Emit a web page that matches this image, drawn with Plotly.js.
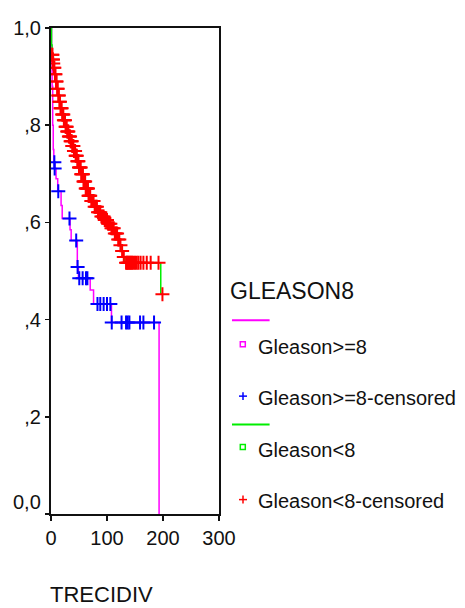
<!DOCTYPE html>
<html><head><meta charset="utf-8">
<script src="https://cdn.plot.ly/plotly-3.0.1.min.js"></script>
<style>html,body{margin:0;padding:0;background:#fff}#chart{width:465px;height:608px}</style>
</head><body><div id="chart"></div>
<script>
// Gleason>=8 : step survival curve (event time, survival after event)
const hiTimes = [0, 1, 2, 3, 4, 5, 6.5, 9, 12, 18, 20, 34, 36, 47, 49, 70, 76, 108, 193];
const hiSurv  = [1.0, 0.93, 0.88, 0.80, 0.75, 0.724, 0.711, 0.69, 0.664, 0.635, 0.608, 0.585, 0.563, 0.508, 0.485, 0.461, 0.432, 0.394, 0.0];
const hiCensor = [6, 6.5, 13, 33, 45, 47.5, 50.5, 56.5, 62.5, 65, 83, 88, 94, 100, 106, 108.5, 126, 134, 137, 140, 159, 165, 184];

// Gleason<8 : step survival curve
const loTimes = [0, 1, 2, 3, 4, 5, 7, 9, 11, 13, 15, 17, 20, 23, 26, 29, 32, 35, 38, 41, 44, 47, 50, 54, 58, 62, 67, 72, 77, 83, 89, 95, 101, 107, 113, 119, 123, 126, 129, 131, 196];
const loSurv  = [1.0, 0.965, 0.945, 0.935, 0.927, 0.918, 0.905, 0.89, 0.875, 0.861, 0.848, 0.835, 0.822, 0.81, 0.797, 0.787, 0.777, 0.767, 0.757, 0.747, 0.737, 0.726, 0.713, 0.699, 0.684, 0.67, 0.655, 0.644, 0.632, 0.621, 0.612, 0.605, 0.597, 0.588, 0.577, 0.565, 0.553, 0.541, 0.529, 0.517, 0.452];
const loEnd = 199;
const loCensor = [2, 2.5, 3, 3.5, 4, 5, 6, 7, 8, 9, 10, 11, 12, 13, 14, 15, 16, 17, 18, 19, 20, 21, 22, 23, 24, 25, 26, 27, 28, 29, 30, 31, 32, 33, 34, 35, 36, 37, 38, 39, 40, 41, 42, 43, 44, 45, 46, 47, 48, 49, 50, 51, 52, 53, 54, 55, 56, 57, 58, 59, 60, 61, 62, 63, 64, 65, 66, 67, 68, 69, 70, 72, 74, 76, 78, 80, 82, 84, 86, 88, 90, 92, 94, 96, 98, 100, 102, 104, 106, 108, 110, 112, 114, 116, 118, 120, 122, 124, 127, 130, 134, 136, 137, 139, 141, 143, 145, 147, 150, 153, 156, 160, 165, 171, 178, 192, 199];

// Axis ticks and texts
const xTickVals = [0, 100, 200, 300];
const yTickVals = [0, 0.2, 0.4, 0.6, 0.8, 1.0];
const yTickText = ['', ',2', ',4', ',6', ',8', '1,0'];
const zeroLabel = '0,0';
const xTitle = 'TRECIDIV';
const legendTitle = 'GLEASON8';
const legendLabels = ['Gleason>=8', 'Gleason>=8-censored', 'Gleason<8', 'Gleason<8-censored'];

function survAt(times, surv, t) {
  let s = surv[0];
  for (let i = 0; i < times.length; i++) if (times[i] <= t) s = surv[i];
  return s;
}

const MAG = '#ff00ff', BLU = '#0000ff', GRN = '#00ee00', RED = '#ff0000';
const FONT = 'Liberation Sans, Arial, sans-serif';

const traces = [
  {x: hiTimes, y: hiSurv, type: 'scatter', mode: 'lines', line: {shape: 'hv', color: MAG, width: 1.5}, hoverinfo: 'skip'},
  {x: loTimes.concat([loEnd]), y: loSurv.concat([loSurv[loSurv.length - 1]]), type: 'scatter', mode: 'lines', line: {shape: 'hv', color: GRN, width: 1.5}, hoverinfo: 'skip'},
  {x: hiCensor, y: hiCensor.map(t => survAt(hiTimes, hiSurv, t)), type: 'scatter', mode: 'markers',
   marker: {symbol: 'cross-thin', size: 10, color: BLU, line: {color: BLU, width: 2}}, hoverinfo: 'skip'},
  {x: loCensor, y: loCensor.map(t => survAt(loTimes, loSurv, t)), type: 'scatter', mode: 'markers',
   marker: {symbol: 'cross-thin', size: 10, color: RED, line: {color: RED, width: 2}}, hoverinfo: 'skip'}
];

// plot area in pixels
const L = 50.7, R = 218.7, T = 27.8, B = 513.9;
const W = R - L, H = B - T;
const px = v => (v - L) / W;
const py = v => (B - v) / H;

const shapes = [];
const annotations = [];
function hline(x0, x1, y, color) {
  shapes.push({type: 'line', xref: 'paper', yref: 'paper', x0: px(x0), x1: px(x1), y0: py(y), y1: py(y), line: {color: color, width: 2}});
}
function square(cx, cy, color) {
  shapes.push({type: 'rect', xref: 'paper', yref: 'paper', x0: px(cx - 2.5), x1: px(cx + 2.5), y0: py(cy - 2.5), y1: py(cy + 2.5), line: {color: color, width: 1.5}, fillcolor: 'rgba(0,0,0,0)'});
}
function plus(cx, cy, color) {
  shapes.push({type: 'line', xref: 'paper', yref: 'paper', x0: px(cx - 4), x1: px(cx + 4), y0: py(cy), y1: py(cy), line: {color: color, width: 1.5}});
  shapes.push({type: 'line', xref: 'paper', yref: 'paper', x0: px(cx), x1: px(cx), y0: py(cy - 4), y1: py(cy + 4), line: {color: color, width: 1.5}});
}
function label(text, x, y, size) {
  annotations.push({text: text, xref: 'paper', yref: 'paper', x: px(x), y: py(y), xanchor: 'left', yanchor: 'middle', showarrow: false, borderpad: 0, font: {family: FONT, size: size, color: '#111'}});
}

label(legendTitle, 229, 291, 23);
hline(231.7, 269.3, 320, MAG);
square(242.5, 344, MAG);
label(legendLabels[0], 257, 346.5, 20);
plus(242.7, 396, BLU);
label(legendLabels[1], 257, 398, 20);
hline(231.7, 269.3, 424.3, GRN);
square(242.5, 447, GRN);
label(legendLabels[2], 257, 449.5, 20);
plus(242.7, 499.5, RED);
label(legendLabels[3], 257, 500.5, 20);

label(xTitle, 49, 594, 22);
annotations.push({text: zeroLabel, xref: 'paper', yref: 'paper', x: px(43), y: py(501.5), xanchor: 'right', yanchor: 'middle', showarrow: false, font: {family: FONT, size: 20, color: '#111'}});

const layout = {
  width: 465, height: 608,
  margin: {l: L, r: 465 - R, t: T, b: 608 - B, pad: 0},
  paper_bgcolor: '#fff', plot_bgcolor: '#fff',
  showlegend: false,
  font: {family: FONT, size: 20, color: '#111'},
  xaxis: {range: [0, 300], tickvals: xTickVals, ticks: 'outside', ticklen: 5, tickwidth: 1.5, tickcolor: '#111',
          showline: true, linecolor: '#111', linewidth: 2, mirror: true, showgrid: false, zeroline: false,
          tickfont: {family: FONT, size: 20, color: '#111'}},
  yaxis: {range: [0, 1.0], tickvals: yTickVals, ticktext: yTickText, ticks: 'outside', ticklen: 4, tickwidth: 1.5, tickcolor: '#111',
          showline: true, linecolor: '#111', linewidth: 2, mirror: true, showgrid: false, zeroline: false,
          tickfont: {family: FONT, size: 20, color: '#111'}},
  shapes: shapes,
  annotations: annotations
};

Plotly.newPlot('chart', traces, layout, {staticPlot: true, displayModeBar: false});
</script>
</body></html>
